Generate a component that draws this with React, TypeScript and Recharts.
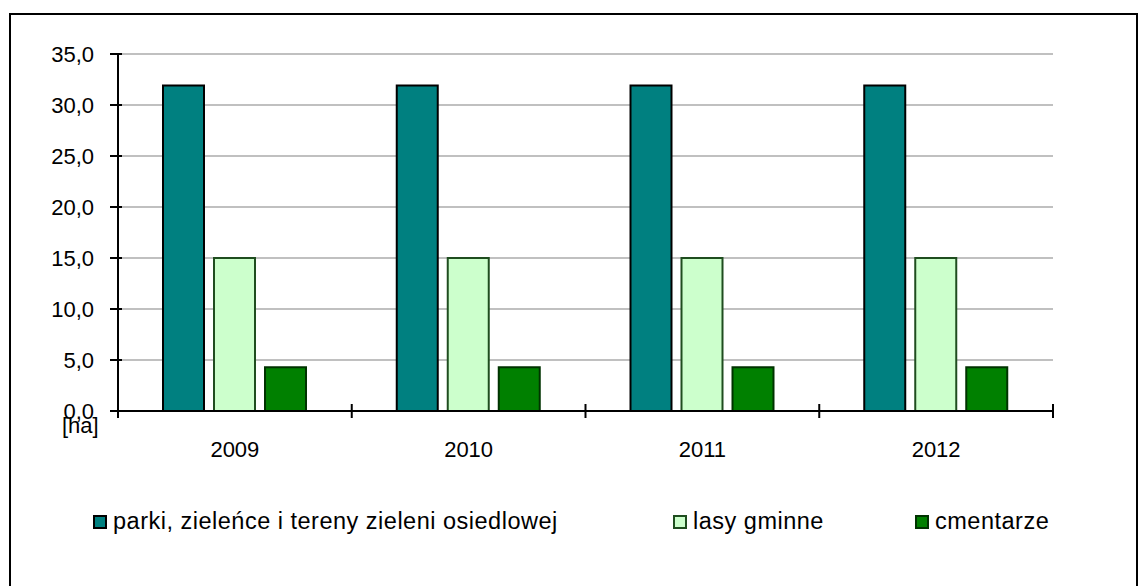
import { BarChart, Bar, XAxis, YAxis, CartesianGrid, Legend } from "recharts";

const years = ["2009", "2010", "2011", "2012"];
const parki = [31.9, 31.9, 31.9, 31.9];
const lasy = [15.0, 15.0, 15.0, 15.0];
const cmentarze = [4.3, 4.3, 4.3, 4.3];
const yTicks = [0, 5, 10, 15, 20, 25, 30, 35];

const series = [
  { key: "parki", name: "parki, zieleńce i tereny zieleni osiedlowej", fill: "#008080", stroke: "#000000" },
  { key: "lasy", name: "lasy gminne", fill: "#CCFFCC", stroke: "#1f4d1f" },
  { key: "cmentarze", name: "cmentarze", fill: "#008000", stroke: "#003300" },
];

const data = years.map((year, i) => ({
  year,
  parki: parki[i],
  lasy: lasy[i],
  cmentarze: cmentarze[i],
}));

const W = 1144;
const H = 586;
const Y_W = 60;
const X_H = 30;
const LEG_H = 30;
// legend height is added to the bottom offset by recharts
const M = { top: 54, right: 91, bottom: 175 - X_H - LEG_H, left: 118 - Y_W };
const plotW = W - 118 - 91;
const band = plotW / years.length;
const FONT = "'Liberation Sans', Arial, sans-serif";

const fmt = (v: number) => v.toFixed(1).replace(".", ",");

function YTick({ x, y, payload }: any) {
  return (
    <g>
      <line x1={x - 8} x2={x + 4} y1={y} y2={y} stroke="#000" strokeWidth={2} />
      <text x={x - 24} y={y} dy={8} textAnchor="end" fontSize={22} fill="#000" fontFamily={FONT}>
        {fmt(payload.value)}
      </text>
    </g>
  );
}

function XTick({ x, y, payload, index }: any) {
  const left = x - band / 2;
  return (
    <g>
      <line x1={left} x2={left} y1={y - 7} y2={y + 7} stroke="#000" strokeWidth={2} />
      {index === years.length - 1 && (
        <line x1={left + band} x2={left + band} y1={y - 7} y2={y + 7} stroke="#000" strokeWidth={2} />
      )}
      <text x={x} y={y} dy={46} textAnchor="middle" fontSize={22} fill="#000" fontFamily={FONT}>
        {payload.value}
      </text>
    </g>
  );
}

const legendLeft = [93, 673, 915];

function LegendBox() {
  return (
    <div style={{ position: "relative", height: LEG_H, fontFamily: FONT, fontSize: 23.5, color: "#000" }}>
      {series.map((s, i) => (
        <div key={s.key} style={{ position: "absolute", left: legendLeft[i], top: 0, display: "flex", alignItems: "center", whiteSpace: "nowrap" }}>
          <span style={{ display: "inline-block", width: 10, height: 10, background: s.fill, border: `2px solid ${s.stroke}`, marginRight: 6 }} />
          <span style={{ letterSpacing: 0.5 }}>{s.name}</span>
        </div>
      ))}
    </div>
  );
}

export default function App() {
  return (
    <div style={{ position: "absolute", left: 0, top: 0, width: W, height: H, background: "#fff", overflow: "hidden" }}>
      <div style={{ position: "absolute", left: 9, top: 13, width: 1129, height: 600, border: "2px solid #000", boxSizing: "border-box" }} />
      <BarChart width={W} height={H} data={data} margin={M} barGap={10} barSize={41}>
        <CartesianGrid horizontal vertical={false} stroke="#c0c0c0" strokeWidth={2} />
        <XAxis
          dataKey="year"
          axisLine={{ stroke: "#000", strokeWidth: 2 }}
          tickLine={false}
          tickSize={0}
          tickMargin={0}
          tick={<XTick />}
          interval={0}
          height={X_H}
        />
        <YAxis
          domain={[0, 35]}
          ticks={yTicks}
          axisLine={{ stroke: "#000", strokeWidth: 2 }}
          tickLine={false}
          tickSize={0}
          tickMargin={0}
          tick={<YTick />}
          width={Y_W}
        />
        <Legend content={<LegendBox />} wrapperStyle={{ position: "absolute", left: 0, top: 508, width: W }} />
        {series.map((s) => (
          <Bar key={s.key} dataKey={s.key} name={s.name} fill={s.fill} stroke={s.stroke} strokeWidth={2} isAnimationActive={false} />
        ))}
      </BarChart>
      <div style={{ position: "absolute", left: 62, top: 413, fontFamily: FONT, fontSize: 22, color: "#000" }}>[ha]</div>
    </div>
  );
}
